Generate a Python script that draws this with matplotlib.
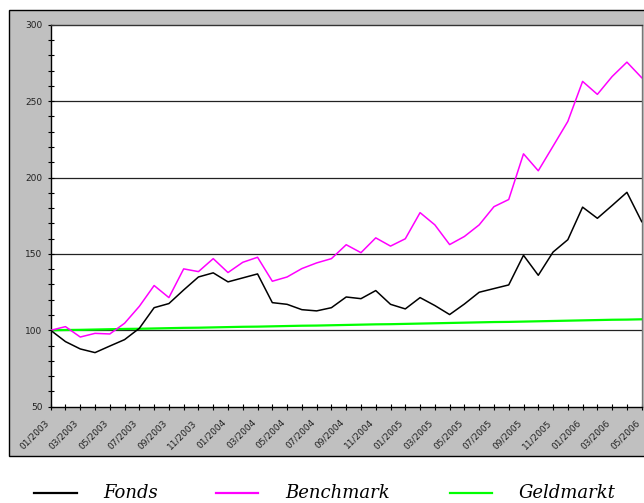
import matplotlib
matplotlib.use('Agg')
import matplotlib.pyplot as plt
from matplotlib.patches import Rectangle
from matplotlib.lines import Line2D

months = ['01/2003', '02/2003', '03/2003', '04/2003', '05/2003', '06/2003', '07/2003', '08/2003',
          '09/2003', '10/2003', '11/2003', '12/2003', '01/2004', '02/2004', '03/2004', '04/2004',
          '05/2004', '06/2004', '07/2004', '08/2004', '09/2004', '10/2004', '11/2004', '12/2004',
          '01/2005', '02/2005', '03/2005', '04/2005', '05/2005', '06/2005', '07/2005', '08/2005',
          '09/2005', '10/2005', '11/2005', '12/2005', '01/2006', '02/2006', '03/2006', '04/2006',
          '05/2006']

fonds = [100, 92.6, 87.8, 85.4, 89.7, 93.9, 101.3, 114.8, 117.5, 126.4, 134.9, 137.6, 131.7,
         134.3, 136.9, 118.1, 117.0, 113.5, 112.7, 114.8, 121.8, 120.7, 126.0, 117.0, 114.0,
         121.4, 116.2, 110.3, 117.2, 124.9, 127.3, 129.7, 149.1, 136.0, 151.2, 159.3, 180.6,
         173.3, 181.7, 190.3, 171.1]

benchmark = [100, 102.4, 95.6, 98.0, 97.6, 104.6, 115.7, 129.3, 121.4, 140.2, 138.4, 146.9, 137.8,
             144.5, 147.8, 132.1, 134.9, 140.4, 144.1, 146.9, 156.0, 150.8, 160.5, 155.1, 159.9,
             177.0, 169.0, 156.1, 161.4, 169.0, 180.9, 185.6, 215.5, 204.4, 220.5, 236.7, 262.9,
             254.4, 266.1, 275.5, 265.3]

geldmarkt = [100.0, 100.2, 100.3, 100.5, 100.7, 100.9, 101.0, 101.2, 101.4, 101.6, 101.7, 101.9,
             102.1, 102.3, 102.4, 102.6, 102.8, 103.0, 103.1, 103.3, 103.5, 103.7, 103.9, 104.0,
             104.2, 104.4, 104.6, 104.8, 105.0, 105.2, 105.4, 105.5, 105.7, 105.9, 106.1, 106.3,
             106.5, 106.7, 106.9, 107.0, 107.2]

W, H = 644, 503
fig = plt.figure(figsize=(W / 100, H / 100), dpi=100)

# grauer Rahmen
fig.add_artist(Rectangle((9 / W, 1 - 455.7 / H), 1.0, (455.7 - 10.3) / H, transform=fig.transFigure,
                         facecolor='#c0c0c0', edgecolor='black', linewidth=1, zorder=0))

ax = fig.add_axes([50.7 / W, 1 - 406.7 / H, (641.7 - 50.7) / W, (406.7 - 24.7) / H])
ax.set_facecolor('white')

x = list(range(len(months)))
ax.plot(x, geldmarkt, color='#00ff00', linewidth=1.6, label='Geldmarkt', zorder=3)
ax.plot(x, benchmark, color='#ff00ff', linewidth=1.1, label='Benchmark', zorder=4)
ax.plot(x, fonds, color='black', linewidth=1.1, label='Fonds', zorder=5)

ax.set_xlim(0, len(months) - 1)
ax.set_ylim(50, 300)
ax.set_yticks(range(50, 301, 50))
ax.set_yticks(range(50, 301, 10), minor=True)
ax.set_xticks(x)
ax.set_xticklabels([m if i % 2 == 0 else '' for i, m in enumerate(months)],
                   rotation=45, ha='right', va='top')
for y in [100, 150, 200, 250]:
    ax.axhline(y, color='#222222', linewidth=0.9, zorder=1)

ax.tick_params(axis='both', which='both', direction='inout', length=4, width=0.8,
               labelsize=6.5, labelcolor='#222222')
ax.tick_params(axis='y', pad=4)
ax.tick_params(axis='x', pad=6)
for lab in ax.get_xticklabels() + ax.get_yticklabels():
    lab.set_family('DejaVu Sans')

ax.spines['left'].set_color('black')
ax.spines['bottom'].set_color('black')
ax.spines['top'].set_color('#333333')
ax.spines['right'].set_color('#777777')
for s in ax.spines.values():
    s.set_linewidth(1)

# Legende
ly = 1 - 493 / H
legend = [(34, 77, 103, 'black', 'Fonds'),
          (216, 258, 285, '#ff00ff', 'Benchmark'),
          (450, 492, 519, '#00ff00', 'Geldmarkt')]
for x0, x1, tx, col, name in legend:
    fig.add_artist(Line2D([x0 / W, x1 / W], [ly, ly], transform=fig.transFigure,
                          color=col, linewidth=1.6))
    fig.text(tx / W, 1 - 498 / H, name, family='DejaVu Serif', style='italic',
             fontsize=13, va='baseline', ha='left')

fig.savefig('out.png', dpi=100)
